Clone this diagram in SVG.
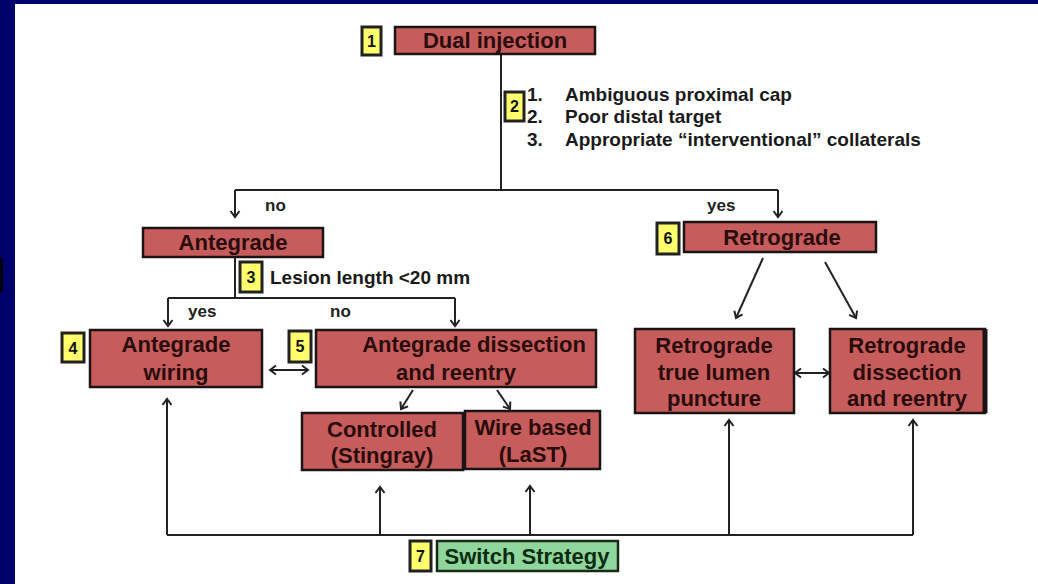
<svg xmlns="http://www.w3.org/2000/svg" width="1038" height="584" viewBox="0 0 1038 584">
<defs>
<style>
.bg{fill:#00006a}
.panel{fill:#ffffff}
.box{fill:#c75c5c;stroke:#1c1414;stroke-width:2.5}
.sw{fill:#8fd69c;stroke:#1a2a1a;stroke-width:2.5}
.badge{fill:#ffff6e;stroke:#222;stroke-width:3}
.bt{font-family:"Liberation Sans",Arial,sans-serif;font-weight:bold;font-size:22px;fill:#2a0c0c;text-anchor:middle}
.nt{font-family:"Liberation Sans",Arial,sans-serif;font-weight:bold;font-size:16px;fill:#111;text-anchor:middle}
.lt{font-family:"Liberation Sans",Arial,sans-serif;font-weight:bold;font-size:19px;fill:#1a1a1a}
.yn{font-family:"Liberation Sans",Arial,sans-serif;font-weight:bold;font-size:17px;fill:#222}
.ln{fill:none;stroke:#222;stroke-width:2}
.ar{fill:none;stroke:#222;stroke-width:2;marker-end:url(#ah)}
.da{fill:none;stroke:#222;stroke-width:2;marker-start:url(#ahs);marker-end:url(#ah)}
</style>
<marker id="ah" markerUnits="userSpaceOnUse" markerWidth="12" markerHeight="12" refX="9" refY="6" orient="auto">
<path d="M3,1.5 L9,6 L3,10.5" fill="none" stroke="#222" stroke-width="2"/>
</marker>
<marker id="ahs" markerUnits="userSpaceOnUse" markerWidth="12" markerHeight="12" refX="3" refY="6" orient="auto">
<path d="M9,1.5 L3,6 L9,10.5" fill="none" stroke="#222" stroke-width="2"/>
</marker>
</defs>
<rect class="bg" x="0" y="0" width="1038" height="584"/>
<rect class="panel" x="15" y="4" width="1023" height="580"/>
<rect x="0" y="258" width="3" height="34" fill="#000010"/>

<g id="connectors">
<path class="ln" d="M501,54 V190"/>
<path class="ln" d="M235,190 H778"/>
<path class="ar" d="M235,190 V217"/>
<path class="ar" d="M778,190 V217"/>
<path class="ln" d="M235,257 V298"/>
<path class="ln" d="M168,298 H455"/>
<path class="ar" d="M168,298 V326"/>
<path class="ar" d="M455,298 V326"/>
<path class="da" d="M270,370 H308"/>
<path class="ar" d="M413,390 L401,409"/>
<path class="ar" d="M497,390 L510,409"/>
<path class="ar" d="M763,258 L736,318"/>
<path class="ar" d="M825,262 L856,318"/>
<path class="da" d="M795,373 H829"/>
<path class="ln" d="M167,535 H913"/>
<path class="ar" d="M167,535 V399"/>
<path class="ar" d="M380,535 V487"/>
<path class="ar" d="M530,535 V486"/>
<path class="ar" d="M729,535 V420"/>
<path class="ar" d="M913,535 V420"/>
<text class="yn" x="265" y="211">no</text>
<text class="yn" x="707" y="211">yes</text>
<text class="yn" x="188" y="317">yes</text>
<text class="yn" x="330" y="317">no</text>
</g>

<g id="node1">
<rect class="badge" x="362" y="27" width="19" height="28"/>
<text class="nt" x="371.5" y="47">1</text>
<rect class="box" x="395" y="27" width="200" height="27"/>
<text class="bt" x="495" y="48">Dual injection</text>
</g>

<g id="node2">
<rect class="badge" x="505" y="92" width="19" height="29"/>
<text class="nt" x="514.5" y="112">2</text>
<text class="lt" x="527" y="101">1.</text>
<text class="lt" x="565" y="101">Ambiguous proximal cap</text>
<text class="lt" x="527" y="123">2.</text>
<text class="lt" x="565" y="123">Poor distal target</text>
<text class="lt" x="527" y="146">3.</text>
<text class="lt" x="565" y="146">Appropriate “interventional” collaterals</text>
</g>

<g id="antegrade">
<rect class="box" x="143" y="228" width="180" height="29"/>
<text class="bt" x="233" y="250">Antegrade</text>
</g>

<g id="node3">
<rect class="badge" x="240" y="262" width="22" height="30"/>
<text class="nt" x="251" y="283">3</text>
<text class="lt" x="270" y="284">Lesion length &lt;20 mm</text>
</g>

<g id="node4">
<rect class="badge" x="62" y="333" width="22" height="29"/>
<text class="nt" x="73" y="354">4</text>
<rect class="box" x="90" y="330" width="172" height="57"/>
<text class="bt" x="176" y="352">Antegrade</text>
<text class="bt" x="176" y="380">wiring</text>
</g>

<g id="node5">
<rect class="badge" x="289" y="331" width="22" height="31"/>
<text class="nt" x="300" y="352">5</text>
<rect class="box" x="316" y="330" width="280" height="57"/>
<text class="bt" x="474" y="352">Antegrade dissection</text>
<text class="bt" x="456" y="380">and reentry</text>
</g>

<g id="controlled">
<rect class="box" x="302" y="413" width="161" height="57"/>
<text class="bt" x="382" y="437">Controlled</text>
<text class="bt" x="382" y="463">(Stingray)</text>
</g>

<g id="wirebased">
<rect class="box" x="465" y="411" width="135" height="58"/>
<text class="bt" x="533" y="435">Wire based</text>
<text class="bt" x="533" y="462">(LaST)</text>
</g>

<g id="node6">
<rect class="badge" x="657" y="223" width="22" height="31"/>
<text class="nt" x="668" y="244">6</text>
<rect class="box" x="684" y="222" width="192" height="30"/>
<text class="bt" x="782" y="245">Retrograde</text>
</g>

<g id="retro-true">
<rect class="box" x="635" y="329" width="159" height="84"/>
<text class="bt" x="714" y="353">Retrograde</text>
<text class="bt" x="714" y="380">true lumen</text>
<text class="bt" x="714" y="406">puncture</text>
</g>

<g id="retro-dissection">
<rect class="box" x="830" y="329" width="155" height="84"/>
<path d="M985,329 V413" stroke="#1c1414" stroke-width="5"/>
<text class="bt" x="907" y="353">Retrograde</text>
<text class="bt" x="907" y="380">dissection</text>
<text class="bt" x="907" y="406">and reentry</text>
</g>

<g id="node7">
<rect class="badge" x="410" y="541" width="21" height="30"/>
<text class="nt" x="420.5" y="562">7</text>
<rect class="sw" x="437" y="541" width="181" height="30"/>
<text class="bt" x="527" y="564" style="fill:#0d2a12">Switch Strategy</text>
</g>
</svg>
